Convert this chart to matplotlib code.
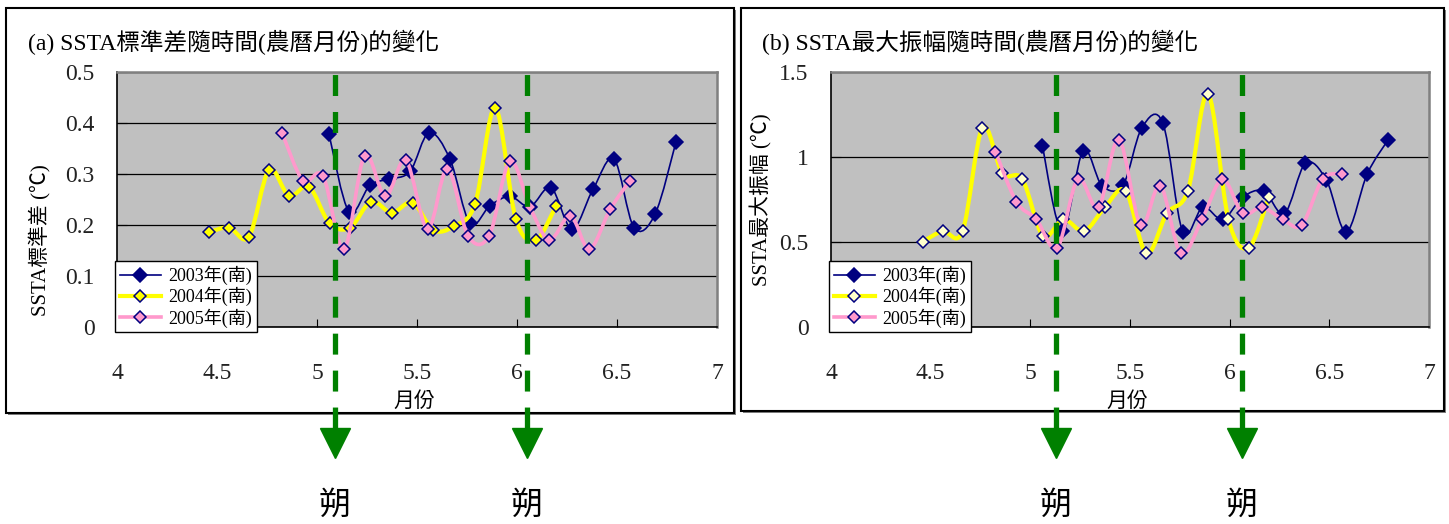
import numpy as np
import matplotlib
matplotlib.use('Agg')
import matplotlib.pyplot as plt
import matplotlib.transforms as mtransforms
from matplotlib.path import Path
from matplotlib.patches import PathPatch, Rectangle
from matplotlib.lines import Line2D

plt.rcParams['font.family'] = ['Liberation Serif', 'Noto Sans CJK TC']

# lunar month positions of each sample
x2003 = [5.06, 5.16, 5.265, 5.36, 5.465, 5.56, 5.665, 5.765, 5.865, 5.965,
         6.065, 6.17, 6.275, 6.38, 6.485, 6.585, 6.69, 6.795]
x2004 = [4.46, 4.56, 4.66, 4.76, 4.86, 4.96, 5.063, 5.166, 5.27, 5.374,
         5.478, 5.582, 5.685, 5.79, 5.891, 5.994, 6.095, 6.196]
x2005 = [4.825, 4.93, 5.03, 5.135, 5.238, 5.342, 5.444, 5.553, 5.652, 5.755,
         5.861, 5.964, 6.065, 6.162, 6.267, 6.362, 6.466, 6.565]

# (a) SSTA standard deviation
sd2003 = [0.378, 0.226, 0.278, 0.290, 0.305, 0.381, 0.329, 0.203, 0.238, 0.256,
          0.236, 0.273, 0.192, 0.270, 0.329, 0.195, 0.221, 0.363]
sd2004 = [0.186, 0.195, 0.177, 0.308, 0.257, 0.275, 0.203, 0.195, 0.246, 0.224,
          0.244, 0.190, 0.198, 0.241, 0.430, 0.212, 0.171, 0.238]
sd2005 = [0.381, 0.287, 0.296, 0.153, 0.336, 0.256, 0.327, 0.192, 0.310, 0.179,
          0.179, 0.325, 0.235, 0.171, 0.218, 0.153, 0.231, 0.287]

# (b) SSTA max amplitude
amp2003 = [1.067, 0.564, 1.036, 0.831, 0.835, 1.173, 1.199, 0.560, 0.704, 0.633,
           0.763, 0.800, 0.668, 0.963, 0.865, 0.560, 0.900, 1.101]
amp2004 = [0.501, 0.564, 0.564, 1.173, 0.904, 0.869, 0.537, 0.633, 0.564, 0.704,
           0.800, 0.433, 0.668, 0.800, 1.372, 0.633, 0.466, 0.763]
amp2005 = [1.032, 0.737, 0.633, 0.466, 0.869, 0.704, 1.101, 0.600, 0.831, 0.433,
           0.633, 0.869, 0.668, 0.704, 0.633, 0.600, 0.869, 0.900]

labels = ['2003年(南)', '2004年(南)', '2005年(南)']
xticks = [4, 4.5, 5, 5.5, 6, 6.5, 7]
xticklabels = ['4', '4.5', '5', '5.5', '6', '6.5', '7']
yticks_a = [0, 0.1, 0.2, 0.3, 0.4, 0.5]
yticklabels_a = ['0', '0.1', '0.2', '0.3', '0.4', '0.5']
yticks_b = [0, 0.5, 1, 1.5]
yticklabels_b = ['0', '0.5', '1', '1.5']

# new moon (朔) markers
newmoon_a = [5.09, 6.05]
newmoon_b = [5.127, 6.06]


def smooth_path(xs, ys):
    # excel-like smoothed line: bezier with catmull-rom control points
    p = np.column_stack([xs, ys])
    pp = np.vstack([p[0], p, p[-1]])
    verts = [p[0]]
    codes = [Path.MOVETO]
    for i in range(len(p) - 1):
        p0, p1, p2, p3 = pp[i], pp[i + 1], pp[i + 2], pp[i + 3]
        verts += [p1 + (p2 - p0) / 6, p2 - (p3 - p1) / 6, p2]
        codes += [Path.CURVE4] * 3
    return Path(verts, codes)


def draw_panel(ax, series, yfill, yticks, yticklabels, ylabel, ylabel_pos, newmoon):
    styles = [
        dict(color='#000080', lw=1.2, mfc='#000080', ms=7.5),
        dict(color='#FFFF00', lw=3.0, mfc=yfill, ms=6.5),
        dict(color='#FF99CC', lw=2.6, mfc='#FF99CC', ms=6.5),
    ]
    handles = []
    for k, ((xs, ys), st) in enumerate(zip(series, styles)):
        ax.add_patch(PathPatch(smooth_path(xs, ys), fill=False, ec=st['color'],
                               lw=st['lw'], zorder=3 + k))
        ax.plot(xs, ys, ls='none', marker='D', ms=st['ms'], mfc=st['mfc'],
                mec='#000080', mew=1.1, zorder=3 + k)
        handles.append(Line2D([], [], color=st['color'], lw=st['lw'], marker='D',
                              ms=st['ms'], mfc=st['mfc'], mec='#000080', mew=1.1))

    ax.set_facecolor('#C0C0C0')
    ax.set_xlim(4, 7)
    ax.set_ylim(yticks[0], yticks[-1])
    ax.set_xticks(xticks)
    ax.set_xticklabels(xticklabels)
    ax.set_yticks(yticks)
    ax.set_yticklabels(yticklabels)
    ax.tick_params(axis='x', direction='in', length=6, pad=26, labelsize=17,
                   labelcolor='#222222')
    ax.tick_params(axis='y', direction='in', length=7, pad=16, labelsize=17,
                   labelcolor='#222222')
    ax.grid(axis='y', color='black', lw=0.9)
    ax.set_axisbelow(True)
    for s in ['left', 'bottom']:
        ax.spines[s].set_color('black')
        ax.spines[s].set_linewidth(1.2)
    for s in ['top', 'right']:
        ax.spines[s].set_color('#808080')
        ax.spines[s].set_linewidth(1.8)

    ax.set_ylabel(ylabel, fontsize=15)
    ax.yaxis.set_label_coords(*ylabel_pos)
    ax.set_xlabel('月份', fontsize=15)
    ax.xaxis.set_label_coords(0.495, -0.255)

    leg = ax.legend(handles, labels, loc='lower left', bbox_to_anchor=(-0.003, -0.02),
                    fontsize=13, frameon=True, fancybox=False, edgecolor='black',
                    framealpha=1, handlelength=2.3, borderpad=0.25,
                    labelspacing=0.1, handletextpad=0.4, borderaxespad=0)
    leg.get_frame().set_linewidth(1.0)
    leg.set_zorder(8)

    # dashed green arrows down to 朔
    trans = mtransforms.blended_transform_factory(ax.transData, ax.transAxes)
    for xm in newmoon:
        ax.plot([xm, xm], [-0.396, 1.0], transform=trans, color='#008000', lw=3.8,
                dashes=(3.97, 3.03), solid_capstyle='butt', dash_capstyle='butt',
                clip_on=False, zorder=10)
        ax.plot([xm], [-0.453], transform=trans, marker='v', ms=21,
                color='#008000', clip_on=False, zorder=10)
        ax.text(xm, -0.70, '朔', transform=trans, ha='center', va='center',
                fontsize=23, color='black')


fig = plt.figure(figsize=(14.49, 5.24), dpi=100)
W, H = 1449.0, 524.0

# panel frames (pixel boxes converted to figure fractions)
for x0, y0, x1, y1 in [(6, 8, 734, 413), (741, 8, 1444, 411)]:
    fig.add_artist(Rectangle(((x0 + 2) / W, 1 - (y1 + 2) / H), (x1 - x0) / W,
                             (y1 - y0) / H, transform=fig.transFigure,
                             fc='#808080', ec='none', zorder=-3))
    fig.add_artist(Rectangle((x0 / W, 1 - y1 / H), (x1 - x0) / W, (y1 - y0) / H,
                             transform=fig.transFigure, fc='white', ec='black',
                             lw=1.5, zorder=-2))

ax1 = fig.add_axes([117 / W, 1 - 327 / H, 600 / W, 255 / H])
ax2 = fig.add_axes([831 / W, 1 - 327 / H, 598 / W, 255 / H])

draw_panel(ax1, [(x2003, sd2003), (x2004, sd2004), (x2005, sd2005)], '#FFFF00',
           yticks_a, yticklabels_a, 'SSTA標準差 (℃)', (-0.11, 0.34), newmoon_a)
draw_panel(ax2, [(x2003, amp2003), (x2004, amp2004), (x2005, amp2005)], '#FFFFCC',
           yticks_b, yticklabels_b, 'SSTA最大振幅 (℃)', (-0.098, 0.5), newmoon_b)

fig.text(28 / W, 1 - 42 / H, '(a) SSTA標準差隨時間(農曆月份)的變化', fontsize=17,
         ha='left', va='center')
fig.text(762 / W, 1 - 42 / H, '(b) SSTA最大振幅隨時間(農曆月份)的變化', fontsize=17,
         ha='left', va='center')

fig.savefig('out.png', dpi=100)
